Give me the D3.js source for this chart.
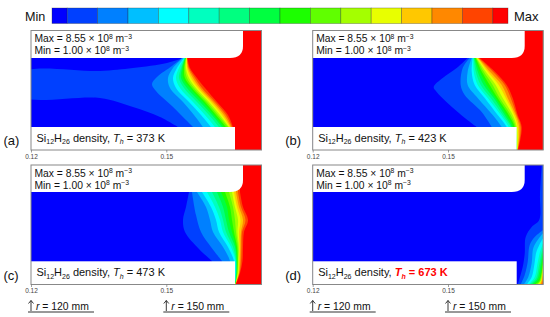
<!DOCTYPE html>
<meta charset="utf-8">
<style>
  body { margin: 0; background: #fff; }
  text { font-family: "Liberation Sans", Arial, sans-serif; fill: #111; }
  .axis text { font-size: 6.5px; fill: #444; }
  .axis path, .axis line { stroke: #777; stroke-width: 0.7px; }
</style>
<body>
<script src="https://d3js.org/d3.v7.min.js"></script>
<script>

var width = 550,
    height = 317;

// colour bar, one entry per contour band
var legendColors = ["#0000ff","#0040ff","#0080ff","#00bfff","#00ffff","#00ffbf","#00ff80","#00ff40",
  "#1cff00","#60ff00","#a4ff00","#e8ff00","#ffc800","#ff8800","#ff4400","#ff0000"];

var panelNames = ["(a)","(b)","(c)","(d)"];
var temperatures = [373,423,473,673];
var rTicks = [0.12,0.15];
var maxLabel = ["Max = 8.55 × 10","8","m","−3"];
var minLabel = ["Min = 1.00 × 10","8","m","−3"];
var radiusMarks = [120,150];

// contour lines in grid cells (1 cell = 0.22 mm):
// first number is along r from the 0.12 tick, second is down from the top of the panel.
// A plain list of numbers goes with the panel's depths array.
var depthsA = [27.5,37.5,47.5,57.5,71.5,84.5,96.5];
var levelsA = [
  [[152,27.5],[136,32.5],[102,37.5],[69,40.5],[-10,42.5],[-10,65.5],[69,67.5],[102,76.5],[129,86.5],[147,96.5]],
  [[151,27.5],[141,35.5],[126,46.5],[121,53.5],[125,60.5],[141,75.5],[162,96.5]],
  [152,142,137,139,152,163,172],
  [153,146,142,145,158,170,180],
  [153.5,148,145,149,162,174,184],
  [154,150,148,153,166,178,188],
  [154,151,150,156,169,181,191],
  [154.5,152,152,159,172,183,193],
  [155,153,154,161,174,185,195],
  [155,154,156,163,176,187,197],
  [155.5,155,158,165,178,189,198],
  [156,156,160,167,180,191,199],
  [156,157,162,169,182,193,200],
  [156,158,164,171,184,195,201],
  [156.5,159,166,174,186,197,202]
];

var depthsB = [27.5,41,54.5,67.5,84.5,96.5,119.5];
var levelsB = [
  [[155,27.5],[144,37.5],[130,47.5],[121,56.5],[124,61.5],[145,81.5],[164,96.5]],
  [[157,27.5],[150,37.5],[148,54.5],[152,64.5],[169,81.5],[179,96.5]],
  [159,155,155,165,180,189,203],
  [160,159,162,172,185,194,203],
  [160.5,161,165,175,188,196,203.5],
  [161,163,168,178,190,198,204],
  [161.5,165,171,181,192,199,204],
  [162,167,174,183,194,200.5,204],
  [163,169,177,185,196,202,204.5],
  [163.5,171,180,187,198,203,204.5],
  [164,173,183,190,200,204,204.5],
  [165,175,186,193,201.5,205,205],
  [165.5,177,189,195,203,206.5,205],
  [166,180,192,198,204,208,205],
  [167,182,194,200,205,209,205.5]
];

var depthsC = [27,42,55,67,82,96,108,119.5];
var levelsC = [
  [[158,27],[155,42],[152,55],[154,67],[168,84],[181,96]],
  [[161,27],[165,50],[170,67],[180,82],[191,96]],
  [166,175,179,182,192,199,200,200],
  [171,180,185,188,197,203,204,204],
  [176,184,189,192,200,204.5,204.5,204],
  [181,188,192,195,202,205,205,204.2],
  [186,192,195,198,204,205.5,205.5,204.3],
  [190,196,198,201,205,206,205.8,204.4],
  [194,199,201,203,206,206.5,206,204.5],
  [198,202,204,205,207,207,206.5,204.5],
  [201,204,207,206.5,208,207.5,207,204.5],
  [203,206,209.5,208,208.5,208,207.5,204.5],
  [205,208,212,210,209.5,209,208,204.6],
  [207,210,214.5,211,210.5,210,208.5,204.7],
  [209,212,217,213,212,211.5,209,204.8]
];

var levelsD = [
  [[229,0],[227.3,30],[226.5,55],[219,62],[213,72],[212,89],[210,102],[205,119.5]],
  [[230.5,65],[222,72],[217,80],[215,97],[212,110],[208,119.5]],
  [[230.5,68],[225,75],[220.6,83],[219,98],[215.6,112],[211,119.5]],
  [[230.5,73],[226.6,80],[223.4,88],[221.6,100],[219,112],[214,119.5]],
  [[230.5,78],[227,88],[224.5,100],[222,112],[216,119.5]],
  [[230.5,82],[228,92],[226,102],[223.5,113],[217.5,119.5]],
  [[230.5,86],[228.5,96],[227,105],[224.5,114],[219,119.5]],
  [[230.5,90],[229,100],[228,108],[225.5,115],[220.5,119.5]],
  [[230.5,94],[229.5,103],[228.5,110],[226.5,116],[222,119.5]],
  [[230.5,98],[229.5,106],[228.5,112],[227,117],[223.5,119.5]],
  [[230.5,102],[229.5,109],[228.5,115],[225,119.5]],
  [[230.5,105],[229.5,112],[228.5,116.5],[226.5,119.5]],
  [[230.5,109],[229.5,115],[228,119.5]],
  [[230.5,114],[229.5,119.5]]
];

var allLevels = [levelsA,levelsB,levelsC,levelsD];
var allDepths = [depthsA,depthsB,depthsC,null];

var panelW = 230.5,
    panelH = 119.5,
    lefts = [31,312.7,31,312.7],
    tops = [30.5,30.5,165,165];

var svg = d3.select("body").append("svg")
  .attr("width",width)
  .attr("height",height)
  .style("display","block");

// colour bar
var barX = d3.scaleLinear().domain([0,legendColors.length - 1]).range([52,508]);
svg.selectAll(".cell")
  .data(legendColors)
  .enter()
  .append("rect")
    .attr("class","cell")
    .attr("x",function(d,i){ return barX(Math.max(i - 0.5,0)); })
    .attr("y",8)
    .attr("width",function(d,i){
      return barX(Math.min(i + 0.5,legendColors.length - 1)) - barX(Math.max(i - 0.5,0));
    })
    .attr("height",15.5)
    .attr("fill",function(d){ return d; })
    .attr("stroke","rgba(40,40,40,0.45)")
    .attr("stroke-width",0.7);

svg.append("text").attr("x",25).attr("y",20.5).style("font-size","12.6px").text("Min");
svg.append("text").attr("x",514).attr("y",20.5).style("font-size","13px").text("Max");

var curve = d3.line().curve(d3.curveCatmullRom.alpha(0.5));

panelNames.forEach(function(name,p){

  var x = d3.scaleLinear().domain([0,panelW]).range([lefts[p],lefts[p] + panelW]),
      y = d3.scaleLinear().domain([0,panelH]).range([tops[p],tops[p] + panelH]),
      r = d3.scaleLinear().domain(rTicks).range([lefts[p],lefts[p] + 135.3]);

  var clipId = "clip" + p;
  svg.append("clipPath").attr("id",clipId)
    .append("rect")
      .attr("x",x(0)).attr("y",y(0))
      .attr("width",panelW).attr("height",panelH);

  var g = svg.append("g").attr("clip-path","url(#" + clipId + ")");

  g.append("rect")
    .attr("x",x(0)).attr("y",y(0))
    .attr("width",panelW).attr("height",panelH)
    .attr("fill",legendColors[0]);

  // each band is everything to the right of its contour line, painted low to high
  g.selectAll("path")
    .data(allLevels[p])
    .enter()
    .append("path")
      .attr("fill",function(d,i){ return legendColors[i + 1]; })
      .attr("d",function(d){
        var pts = typeof d[0] === "number"
          ? d.map(function(v,i){ return [v,allDepths[p][i]]; })
          : d;
        var xy = pts.map(function(q){ return [x(q[0]),y(q[1])]; });
        var first = xy[0], last = xy[xy.length - 1];
        return "M" + x(panelW) + "," + y(0) + "L" + first[0] + "," + y(0) +
          "L" + curve(xy).slice(1) +
          "L" + last[0] + "," + y(panelH) + "L" + x(panelW) + "," + y(panelH) + "Z";
      });

  // white blocks: upper wall with its rounded corner, lower wall
  var boxTop = p < 2 ? 27.5 : 27,
      boxBottom = p < 2 ? 96.5 : 96.3;

  g.append("path")
    .attr("fill","#fff")
    .attr("d","M" + x(0) + "," + y(0) + "H" + x(212) + "V" + y(boxTop - 12) +
      "Q" + x(212) + "," + y(boxTop) + " " + x(199) + "," + y(boxTop) + "H" + x(0) + "Z");

  g.append("rect")
    .attr("fill","#fff")
    .attr("x",x(0)).attr("y",y(boxBottom))
    .attr("width",x(204) - x(0)).attr("height",panelH - boxBottom);

  svg.append("rect")
    .attr("x",x(0)).attr("y",y(0))
    .attr("width",panelW).attr("height",panelH)
    .attr("fill","none")
    .attr("stroke","#888")
    .attr("stroke-width",1);

  svg.append("g")
    .attr("class","axis")
    .attr("transform","translate(0," + y(panelH) + ")")
    .call(d3.axisBottom(r).tickValues(rTicks).tickSize(2.5).tickSizeOuter(0).tickPadding(1.5).tickFormat(d3.format(".2f")))
    .select(".domain").remove();

  // value labels
  [maxLabel,minLabel].forEach(function(lab,k){
    var t = svg.append("text")
      .attr("x",x(3.5))
      .attr("y",y(k === 0 ? 11.5 : 23.5))
      .style("font-size","10.3px");
    t.append("tspan").text(lab[0]);
    t.append("tspan").attr("dy",-3.5).style("font-size","6.8px").text(lab[1]);
    t.append("tspan").attr("dy",3.5).text(" " + lab[2]);
    t.append("tspan").attr("dy",-3.5).style("font-size","6.8px").text(lab[3]);
  });

  var title = svg.append("text")
    .attr("x",x(5.5))
    .attr("y",y(panelH - 8.5))
    .style("font-size","11px");
  title.append("tspan").text("Si");
  title.append("tspan").attr("dy",2.5).style("font-size","7px").text("12");
  title.append("tspan").attr("dy",-2.5).text("H");
  title.append("tspan").attr("dy",2.5).style("font-size","7px").text("26");
  title.append("tspan").attr("dy",-2.5).text(" density, ");

  var hot = p === 3;
  var hotFill = hot ? "#f00" : "#111",
      hotWeight = hot ? "bold" : "normal";
  title.append("tspan").style("font-style","italic").style("fill",hotFill).style("font-weight",hotWeight).text("T");
  title.append("tspan").attr("dy",2.5).style("font-size","7px").style("font-style","italic").style("fill",hotFill).style("font-weight",hotWeight).text("h");
  title.append("tspan").attr("dy",-2.5).style("fill",hotFill).style("font-weight",hotWeight).text(" = " + temperatures[p] + " K");

  svg.append("text")
    .attr("x",x(0) - 27.5)
    .attr("y",y(panelH) - 5)
    .style("font-size","13px")
    .text(name);

  // radius markers under the lower row
  if (p >= 2) {
    radiusMarks.forEach(function(mm){
      var mx = r(mm / 1000);
      svg.append("path")
        .attr("fill","none")
        .attr("stroke","#222")
        .attr("stroke-width",0.9)
        .attr("d","M" + mx + ",311V300.5M" + (mx - 2.5) + ",303.5L" + mx + ",300.5L" + (mx + 2.5) + ",303.5");
      svg.append("path")
        .attr("stroke","#333")
        .attr("stroke-width",1)
        .attr("d","M" + (mx - 3) + ",312H" + (mx + 63));
      var lab = svg.append("text")
        .attr("x",mx + 5)
        .attr("y",310)
        .style("font-size","10.4px");
      lab.append("tspan").style("font-style","italic").text("r");
      lab.append("tspan").text(" = " + mm + " mm");
    });
  }

});

</script>
